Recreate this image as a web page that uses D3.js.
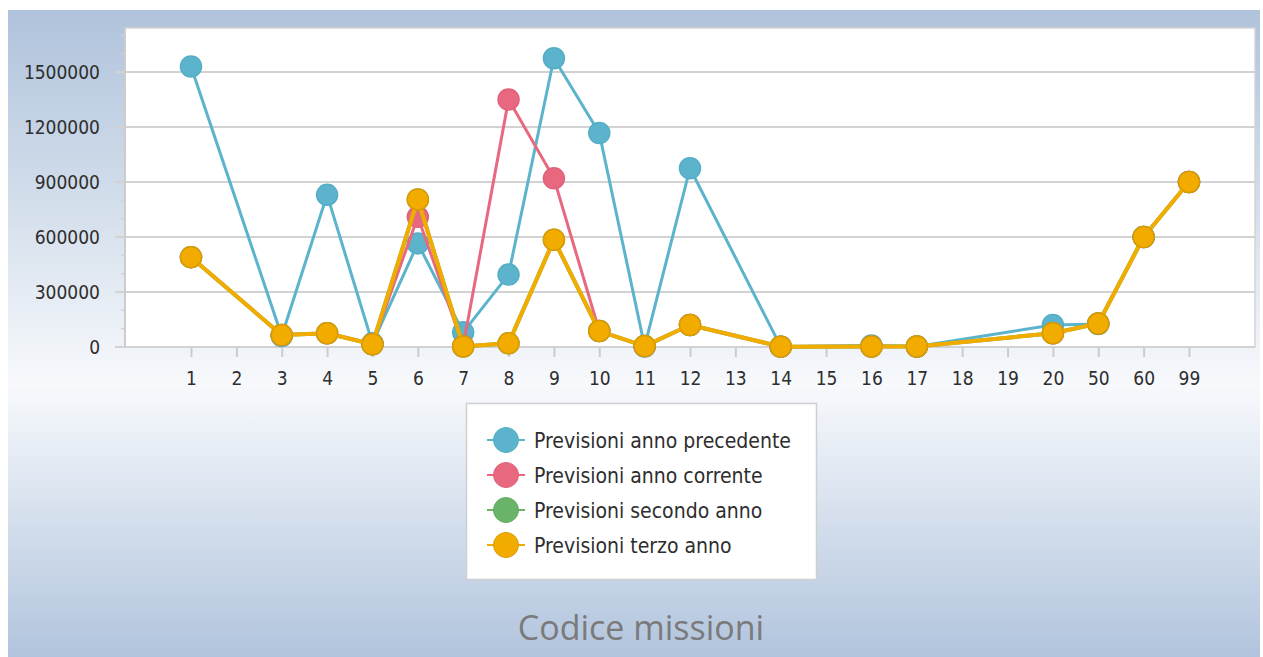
<!DOCTYPE html>
<html><head><meta charset="utf-8">
<script src="https://cdn.jsdelivr.net/npm/d3@7"></script>
<style>html,body{margin:0;padding:0;background:#fff;}svg{display:block;}</style>
</head><body><svg id="c" width="1263" height="657"></svg>
<script>
const categories = ["1","2","3","4","5","6","7","8","9","10","11","12","13","14","15","16","17","18","19","20","50","60","99"];
const seriesNames = ["Previsioni anno precedente","Previsioni anno corrente","Previsioni secondo anno","Previsioni terzo anno"];
const annoPrecedente = [1530000,null,60000,830000,20000,565000,80000,395000,1575000,1167000,3000,975000,null,2000,null,8000,3000,null,null,120000,125000,600000,900000];
const annoCorrente   = [490000,null,65000,75000,15000,710000,5000,1350000,920000,87000,5000,120000,null,2000,null,3000,3000,null,null,75000,128000,600000,900000];
const secondoAnno    = [490000,null,65000,75000,15000,805000,3000,20000,585000,87000,5000,120000,null,2000,null,3000,3000,null,null,75000,128000,600000,900000];
const terzoAnno      = [490000,null,65000,75000,15000,805000,3000,20000,585000,87000,5000,120000,null,2000,null,3000,3000,null,null,75000,128000,600000,900000];
const yTicks = [0,300000,600000,900000,1200000,1500000];
const colors = ["#5cb4cc","#e8687f","#6ab46a","#f2ac00"];
const strokes = ["#55adc5","#e0617a","#62ab62","#dc9c00"];
const widths = [3,3,4,4];
const seriesValues = [annoPrecedente, annoCorrente, secondoAnno, terzoAnno];

const svg = d3.select("#c");
const defs = svg.append("defs");
const g = defs.append("linearGradient").attr("id","bg").attr("x1",0).attr("y1",0).attr("x2",0).attr("y2",1);
g.append("stop").attr("offset","0%").attr("stop-color","#b0c3dc");
g.append("stop").attr("offset","30%").attr("stop-color","#d3deeb");
g.append("stop").attr("offset","58%").attr("stop-color","#f7f9fc");
g.append("stop").attr("offset","100%").attr("stop-color","#b1c4dd");

svg.append("rect").attr("x",0).attr("y",0).attr("width",1263).attr("height",657).attr("fill","#fff");
svg.append("rect").attr("x",8).attr("y",10).attr("width",1252).attr("height",647).attr("fill","url(#bg)");

const L=125,R=1255,T=28,B=347;
const x = d3.scalePoint().domain(categories).range([L,R]).padding(1.455);
const y = d3.scaleLinear().domain([0,1740000]).range([B,T]);

svg.append("rect").attr("x",L).attr("y",T).attr("width",R-L).attr("height",B-T)
  .attr("fill","#fff").attr("stroke","#d4d4d4").attr("stroke-width",1.5);

// grid
svg.append("g").selectAll("line").data(yTicks).join("line")
  .attr("x1",115).attr("x2",R).attr("y1",d=>y(d)).attr("y2",d=>y(d))
  .attr("stroke","#d2d2d2").attr("stroke-width",2);
// minor ticks
const minor = d3.range(100000,1700001,100000).filter(v=>v%300000!==0);
svg.append("g").selectAll("line").data(minor).join("line")
  .attr("x1",121).attr("x2",L).attr("y1",d=>y(d)).attr("y2",d=>y(d))
  .attr("stroke","#d2d2d2").attr("stroke-width",1.5);
// y axis line
svg.append("line").attr("x1",L).attr("x2",L).attr("y1",T).attr("y2",B).attr("stroke","#cccccc").attr("stroke-width",2);

// y axis labels via d3 axis
const yAxis = svg.append("g").attr("transform",`translate(${L},0)`)
  .call(d3.axisLeft(y).tickValues(yTicks).tickFormat(d3.format("d")).tickSize(0).tickPadding(25));
yAxis.select(".domain").remove();
yAxis.selectAll("text").attr("font-family","'DejaVu Sans Condensed','DejaVu Sans',sans-serif")
  .attr("font-size",19).attr("fill","#2e2e2e");

// x axis
const xAxis = svg.append("g").attr("transform",`translate(0,${B})`)
  .call(d3.axisBottom(x).tickSize(10).tickPadding(15));
xAxis.select(".domain").remove();
xAxis.selectAll("line").attr("stroke","#cccccc").attr("stroke-width",2);
xAxis.selectAll("text").attr("font-family","'DejaVu Sans Condensed','DejaVu Sans',sans-serif")
  .attr("font-size",19).attr("fill","#2e2e2e");

// series
const line = d3.line().x(d=>x(d.c)).y(d=>y(d.v));
seriesValues.forEach((vals,i)=>{
  const pts = categories.map((c,j)=>({c, v: vals[j]})).filter(d=>d.v!==null);
  const sg = svg.append("g");
  sg.append("path").attr("d",line(pts)).attr("fill","none").attr("stroke",colors[i])
    .attr("stroke-width",widths[i]).attr("stroke-linejoin","round");
  sg.selectAll("circle").data(pts).join("circle")
    .attr("cx",d=>x(d.c)).attr("cy",d=>y(d.v)).attr("r",10.5)
    .attr("fill",colors[i]).attr("stroke",strokes[i]).attr("stroke-width",1.5);
});

// legend
const lg = svg.append("g");
lg.append("rect").attr("x",466.5).attr("y",403.5).attr("width",350).attr("height",176)
  .attr("fill","#fff").attr("stroke","#cfcfcf").attr("stroke-width",1.5);
const ly = d3.scalePoint().domain(seriesNames).range([440,545]);
seriesNames.forEach((n,i)=>{
  const cy = ly(n);
  lg.append("line").attr("x1",487).attr("x2",525).attr("y1",cy).attr("y2",cy).attr("stroke",colors[i]).attr("stroke-width",2);
  lg.append("circle").attr("cx",506).attr("cy",cy).attr("r",12.5).attr("fill",colors[i]).attr("stroke",strokes[i]).attr("stroke-width",1);
  lg.append("text").attr("x",534).attr("y",cy).attr("dy","0.36em").text(n)
    .attr("font-family","'DejaVu Sans Condensed','DejaVu Sans',sans-serif").attr("font-size",21).attr("fill","#2e2e2e");
});

// title
svg.append("text").attr("x",641).attr("y",640).attr("text-anchor","middle").text("Codice missioni")
  .attr("font-family","'Open Sans',sans-serif").attr("font-size",34).attr("fill","#7a7a7a");
</script></body></html>
